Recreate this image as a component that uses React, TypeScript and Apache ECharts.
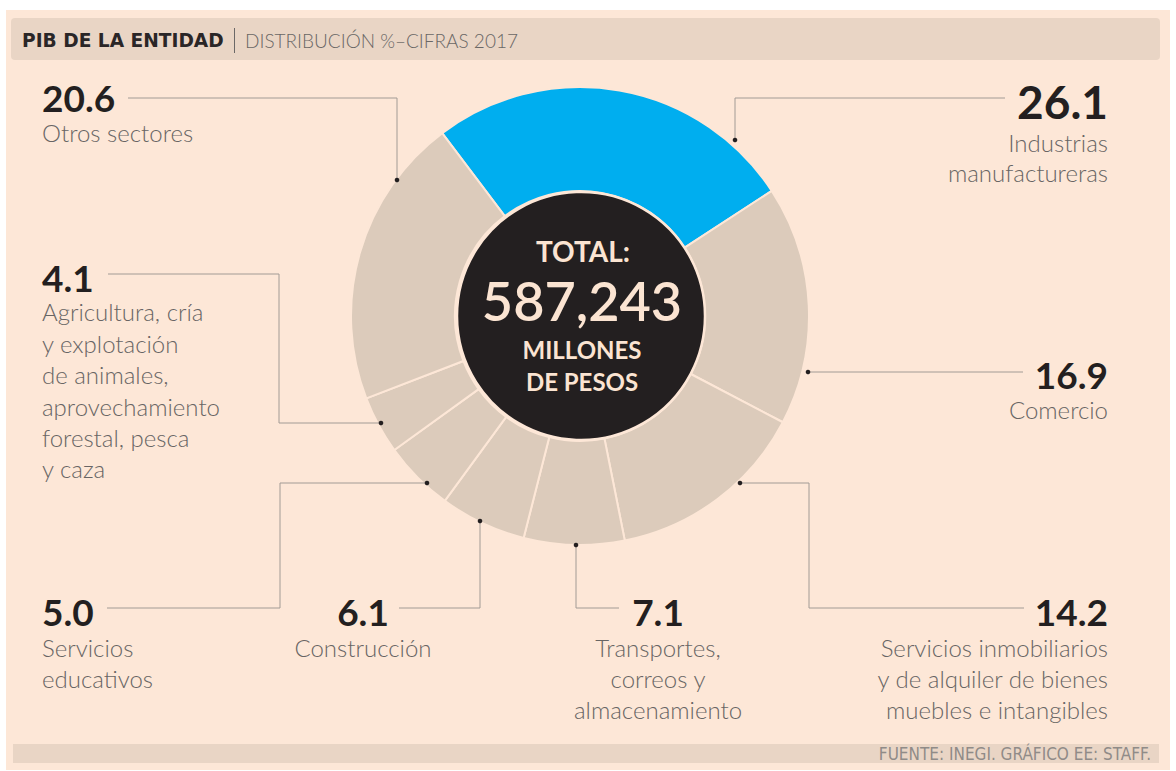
import React, { useEffect, useRef } from "react";
import * as echarts from "echarts";

// ---- data ----
const categories = [
  "Industrias\nmanufactureras",
  "Comercio",
  "Servicios inmobiliarios\ny de alquiler de bienes\nmuebles e intangibles",
  "Transportes,\ncorreos y\nalmacenamiento",
  "Construcción",
  "Servicios\neducativos",
  "Agricultura, cría\ny explotación\nde animales,\naprovechamiento\nforestal, pesca\ny caza",
  "Otros sectores",
];
const shares = [26.1, 16.9, 14.2, 7.1, 6.1, 5.0, 4.1, 20.6];
const highlighted = [true, false, false, false, false, false, false, false];
const totalLabel = "587,243";
const title = "PIB DE LA ENTIDAD";
const subtitle = "DISTRIBUCIÓN %–CIFRAS 2017";
const source = "FUENTE: INEGI. GRÁFICO EE: STAFF.";

// ---- layout (annotation positions) ----
type LabelPos = {
  x: number;
  numY: number;
  nameY: number;
  align: "left" | "right" | "center";
  numSize: number;
  lh: number;
  leader: number[][];
};
const labelLayout: LabelPos[] = [
  { x: 1108, numY: 101, nameY: 143, align: "right", numSize: 46, lh: 30, leader: [[1005, 98], [735, 98], [735, 140]] },
  { x: 1108, numY: 374, nameY: 410, align: "right", numSize: 37, lh: 31, leader: [[1023, 372], [808, 372]] },
  { x: 1108, numY: 611, nameY: 648, align: "right", numSize: 37, lh: 31, leader: [[1024, 608], [809, 608], [809, 483], [740, 483]] },
  { x: 658, numY: 611, nameY: 648, align: "center", numSize: 37, lh: 31, leader: [[619, 608], [576, 608], [576, 545]] },
  { x: 363, numY: 611, nameY: 648, align: "center", numSize: 37, lh: 31, leader: [[399, 608], [480, 608], [480, 521]] },
  { x: 42, numY: 611, nameY: 648, align: "left", numSize: 37, lh: 31, leader: [[107, 608], [280, 608], [280, 483], [427, 483]] },
  { x: 42, numY: 277, nameY: 313, align: "left", numSize: 37, lh: 31.4, leader: [[108, 274], [279, 274], [279, 423], [381, 423]] },
  { x: 42, numY: 97, nameY: 133, align: "left", numSize: 37, lh: 31, leader: [[128, 98], [397, 98], [397, 180]] },
];

const FONT = "Lato, 'Noto Sans', sans-serif";
const PEACH = "#fde7d7";
const BAR = "#e9d5c5";
const TAN = "#dccbbb";
const BLUE = "#00aeef";
const DARK = "#231f20";
const GREY = "#686564";
const LEADER = "#a29b95";

export default function App() {
  const ref = useRef<HTMLDivElement>(null);

  useEffect(() => {
    document.body.style.margin = "0";
    if (!ref.current) return;
    const chart = echarts.init(ref.current, undefined, { renderer: "svg" });

    const graphics: any[] = [
      // panel background
      { type: "rect", z: 0, shape: { x: 6, y: 10, width: 1164, height: 760 }, style: { fill: PEACH } },
      { type: "rect", z: 1, shape: { x: 11, y: 18, width: 1149, height: 42, r: 4 }, style: { fill: BAR } },
      { type: "rect", z: 1, shape: { x: 13, y: 744, width: 1146, height: 19 }, style: { fill: BAR } },
      {
        type: "text", z: 2, x: 22, y: 40,
        style: { text: title, fontFamily: "'DejaVu Sans', sans-serif", fontSize: 18.6, fontWeight: "bold", fill: "#2a2627", align: "left", verticalAlign: "middle" },
      },
      { type: "line", z: 2, shape: { x1: 234.5, y1: 28, x2: 234.5, y2: 53 }, style: { stroke: "#6b6867", lineWidth: 1 } },
      {
        type: "text", z: 2, x: 245, y: 40,
        style: { text: subtitle, fontFamily: FONT, fontSize: 19, fontWeight: 300, fill: "#6a6766", align: "left", verticalAlign: "middle" },
      },
      {
        type: "text", z: 2, x: 1151, y: 754,
        style: { text: source, fontFamily: "'Liberation Sans Narrow', 'DejaVu Sans Condensed', sans-serif", fontSize: 17, fill: "#908b88", align: "right", verticalAlign: "middle" },
      },
      // center disc
      { type: "circle", z: 10, shape: { cx: 581, cy: 316, r: 124 }, style: { fill: DARK, stroke: PEACH, lineWidth: 2.5 } },
      {
        type: "text", z: 11, x: 583, y: 251,
        style: { text: "TOTAL:", fontFamily: FONT, fontSize: 28, fontWeight: "bold", fill: "#fbe4d2", align: "center", verticalAlign: "middle" },
      },
      {
        type: "text", z: 11, x: 582, y: 300,
        style: { text: totalLabel, fontFamily: FONT, fontSize: 54, fontWeight: 600, fill: "#fbe4d2", align: "center", verticalAlign: "middle" },
      },
      {
        type: "text", z: 11, x: 582, y: 349,
        style: { text: "MILLONES", fontFamily: FONT, fontSize: 24, fontWeight: "bold", fill: "#fbe4d2", align: "center", verticalAlign: "middle" },
      },
      {
        type: "text", z: 11, x: 582, y: 381,
        style: { text: "DE PESOS", fontFamily: FONT, fontSize: 24, fontWeight: "bold", fill: "#fbe4d2", align: "center", verticalAlign: "middle" },
      },
    ];

    shares.forEach((v, i) => {
      const L = labelLayout[i];
      const last = L.leader[L.leader.length - 1];
      graphics.push({
        type: "polyline", z: 5,
        shape: { points: L.leader },
        style: { stroke: LEADER, lineWidth: 1, fill: null },
      });
      graphics.push({
        type: "circle", z: 6,
        shape: { cx: last[0], cy: last[1], r: 2.3 },
        style: { fill: DARK },
      });
      graphics.push({
        type: "text", z: 6, x: L.x, y: L.numY,
        style: { text: v.toFixed(1), fontFamily: FONT, fontSize: L.numSize, fontWeight: "bold", fill: DARK, align: L.align, verticalAlign: "middle" },
      });
      graphics.push({
        type: "text", z: 6, x: L.x, y: L.nameY - L.lh / 2 - 1,
        style: { text: categories[i], fontFamily: FONT, fontSize: 24, fontWeight: 300, lineHeight: L.lh, fill: GREY, align: L.align, verticalAlign: "top" },
      });
    });

    chart.setOption({
      animation: false,
      backgroundColor: "#ffffff",
      graphic: { elements: graphics },
      series: [
        {
          type: "pie",
          z: 3,
          center: [580, 316],
          radius: [125, 229],
          startAngle: 127,
          clockwise: true,
          silent: true,
          label: { show: false },
          labelLine: { show: false },
          emphasis: { disabled: true },
          itemStyle: { borderColor: PEACH, borderWidth: 2 },
          data: shares.map((v, i) => ({
            name: categories[i],
            value: v,
            itemStyle: { color: highlighted[i] ? BLUE : TAN },
          })),
        },
      ],
    });

    return () => chart.dispose();
  }, []);

  return <div ref={ref} style={{ width: 1176, height: 771 }} />;
}
